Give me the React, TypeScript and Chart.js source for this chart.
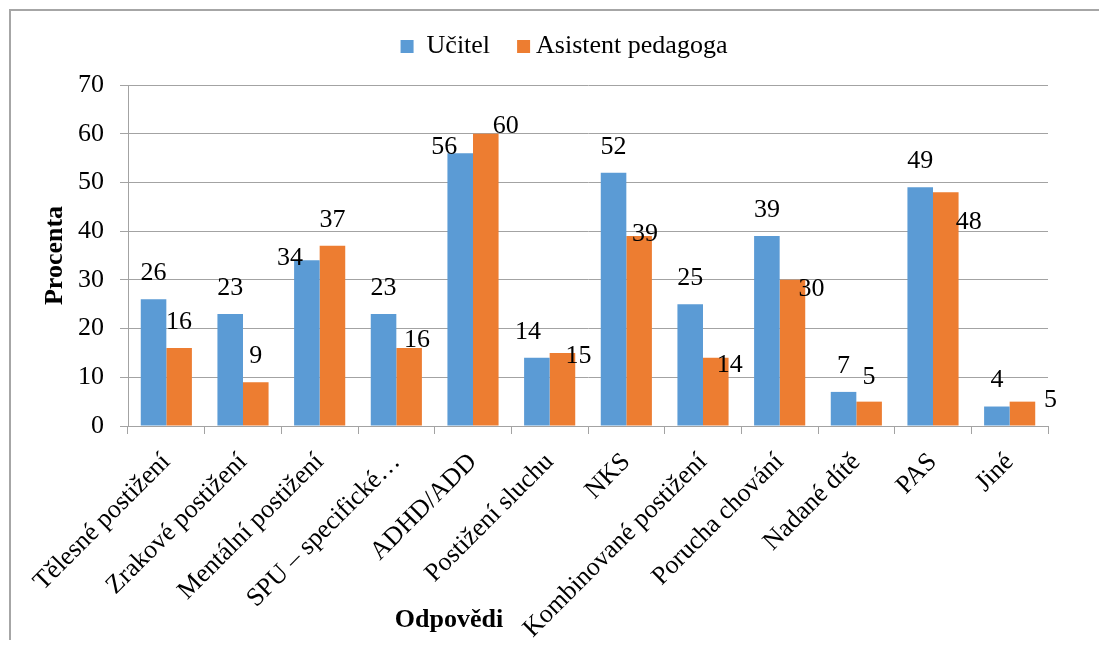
import React, { useEffect, useRef } from 'react';
import { Chart, registerables } from 'chart.js';

Chart.register(...registerables);

const categories = [
  'Tělesné postižení',
  'Zrakové postižení',
  'Mentální postižení',
  'SPU – specifické…',
  'ADHD/ADD',
  'Postižení sluchu',
  'NKS',
  'Kombinované postižení',
  'Porucha chování',
  'Nadané dítě',
  'PAS',
  'Jiné',
];

const seriesNames = ['Učitel', 'Asistent pedagoga'];
const ucitel = [26, 23, 34, 23, 56, 14, 52, 25, 39, 7, 49, 4];
const asistent = [16, 9, 37, 16, 60, 15, 39, 14, 30, 5, 48, 5];
const yTickValues = [0, 10, 20, 30, 40, 50, 60, 70];

// manual nudges (px) of the data labels, as they were dragged in the source chart
const ucitelLabelShift: [number, number][] = [
  [0, 0], [0, 0], [-17, 24], [0, 0], [-16, 20], [-9, 0],
  [0, 0], [0, 0], [0, 0], [0, 0], [0, 0], [0, 0],
];
const asistentLabelShift: [number, number][] = [
  [0, 0], [0, 0], [0, 0], [8, 18], [20, 18], [16, 29],
  [6, 24], [14, 33], [19, 35], [0, 2], [23, 56], [28, 25],
];

const FONT = "'Liberation Serif', 'Times New Roman', serif";
const GRID = '#a3a3a3';
const BLUE = '#5B9BD5';
const ORANGE = '#ED7D31';

const framePlugin = {
  id: 'frame',
  beforeDraw(chart: any) {
    const { ctx, width, height } = chart;
    ctx.save();
    ctx.fillStyle = '#ffffff';
    ctx.fillRect(0, 0, width, height);
    ctx.fillStyle = '#a6a6a6';
    ctx.fillRect(0, 0, 2, height);
    ctx.fillRect(0, 0, width, 2);
    ctx.restore();
  },
};

const legendPlugin = {
  id: 'topLegend',
  afterDraw(chart: any) {
    const { ctx } = chart;
    const sets = chart.data.datasets;
    ctx.save();
    ctx.font = `26px ${FONT}`;
    ctx.textBaseline = 'middle';
    ctx.textAlign = 'left';
    const box = 13;
    const boxGap = [13, 6];
    const itemGap = 27;
    const widths = sets.map((d: any) => ctx.measureText(d.label).width);
    let total = 0;
    sets.forEach((d: any, i: number) => {
      total += box + boxGap[i % 2] + widths[i];
      if (i < sets.length - 1) total += itemGap;
    });
    let x = chart.width / 2 + 10 - total / 2;
    const cy = 37.5;
    sets.forEach((d: any, i: number) => {
      ctx.fillStyle = d.backgroundColor;
      ctx.fillRect(x, cy - box / 2, box, box);
      x += box + boxGap[i % 2];
      ctx.fillStyle = '#000';
      ctx.fillText(d.label, x, cy);
      x += widths[i] + itemGap;
    });
    ctx.restore();
  },
};

const dataLabelPlugin = {
  id: 'dataLabels',
  afterDatasetsDraw(chart: any) {
    const { ctx } = chart;
    ctx.save();
    ctx.font = `26px ${FONT}`;
    ctx.fillStyle = '#000';
    ctx.textAlign = 'center';
    ctx.textBaseline = 'middle';
    chart.data.datasets.forEach((ds: any, di: number) => {
      const meta = chart.getDatasetMeta(di);
      const shifts = di === 0 ? ucitelLabelShift : asistentLabelShift;
      meta.data.forEach((bar: any, i: number) => {
        const [dx, dy] = shifts[i];
        ctx.fillText(String(ds.data[i]), bar.x + dx, bar.y - 26 + dy);
      });
    });
    ctx.restore();
  },
};

const xTitlePlugin = {
  id: 'xTitle',
  afterDraw(chart: any) {
    const { ctx, chartArea } = chart;
    ctx.save();
    ctx.font = `bold 26px ${FONT}`;
    ctx.fillStyle = '#000';
    ctx.textAlign = 'center';
    ctx.textBaseline = 'middle';
    const cx = (chartArea.left + chartArea.right) / 2 - 139;
    ctx.fillText('Odpovědi', cx, chart.height - 20);
    ctx.restore();
  },
};

export default function App() {
  const ref = useRef<HTMLCanvasElement | null>(null);

  useEffect(() => {
    if (!ref.current) return;
    const chart = new Chart(ref.current, {
      type: 'bar',
      data: {
        labels: categories,
        datasets: [
          {
            label: seriesNames[0],
            data: ucitel,
            backgroundColor: BLUE,
            categoryPercentage: 0.667,
            barPercentage: 1,
          },
          {
            label: seriesNames[1],
            data: asistent,
            backgroundColor: ORANGE,
            categoryPercentage: 0.667,
            barPercentage: 1,
          },
        ],
      },
      options: {
        responsive: false,
        animation: false,
        devicePixelRatio: 1,
        layout: { padding: { top: 76, right: 51, bottom: 0, left: 0 } },
        plugins: {
          tooltip: { enabled: false },
          legend: { display: false },
        },
        scales: {
          x: {
            ticks: {
              color: '#000',
              font: { family: FONT, size: 26 },
              minRotation: 45,
              maxRotation: 45,
              autoSkip: false,
              padding: 13,
            },
            grid: {
              display: true,
              drawOnChartArea: false,
              drawTicks: true,
              tickLength: 8,
              color: GRID,
              offset: true,
            },
            border: { color: GRID },
            afterFit: (s: any) => {
              s.height = 214;
            },
          },
          y: {
            min: 0,
            max: 70,
            afterBuildTicks: (s: any) => {
              s.ticks = yTickValues.map((v) => ({ value: v }));
            },
            ticks: {
              color: '#000',
              font: { family: FONT, size: 26 },
              padding: 16,
            },
            grid: { color: GRID, tickLength: 8 },
            border: { color: GRID },
            title: {
              display: true,
              text: 'Procenta',
              color: '#000',
              font: { family: FONT, size: 26, weight: 'bold' },
              padding: { top: 31, bottom: 0 },
            },
            afterFit: (s: any) => {
              s.width = 119;
            },
          },
        },
      },
      plugins: [framePlugin, dataLabelPlugin, xTitlePlugin, legendPlugin],
    });
    return () => chart.destroy();
  }, []);

  return (
    <div style={{ paddingTop: 1, paddingLeft: 1, height: 632, boxSizing: 'border-box' }}>
      <canvas ref={ref} width={1090} height={631} style={{ display: 'block', width: 1090, height: 631 }} />
    </div>
  );
}
